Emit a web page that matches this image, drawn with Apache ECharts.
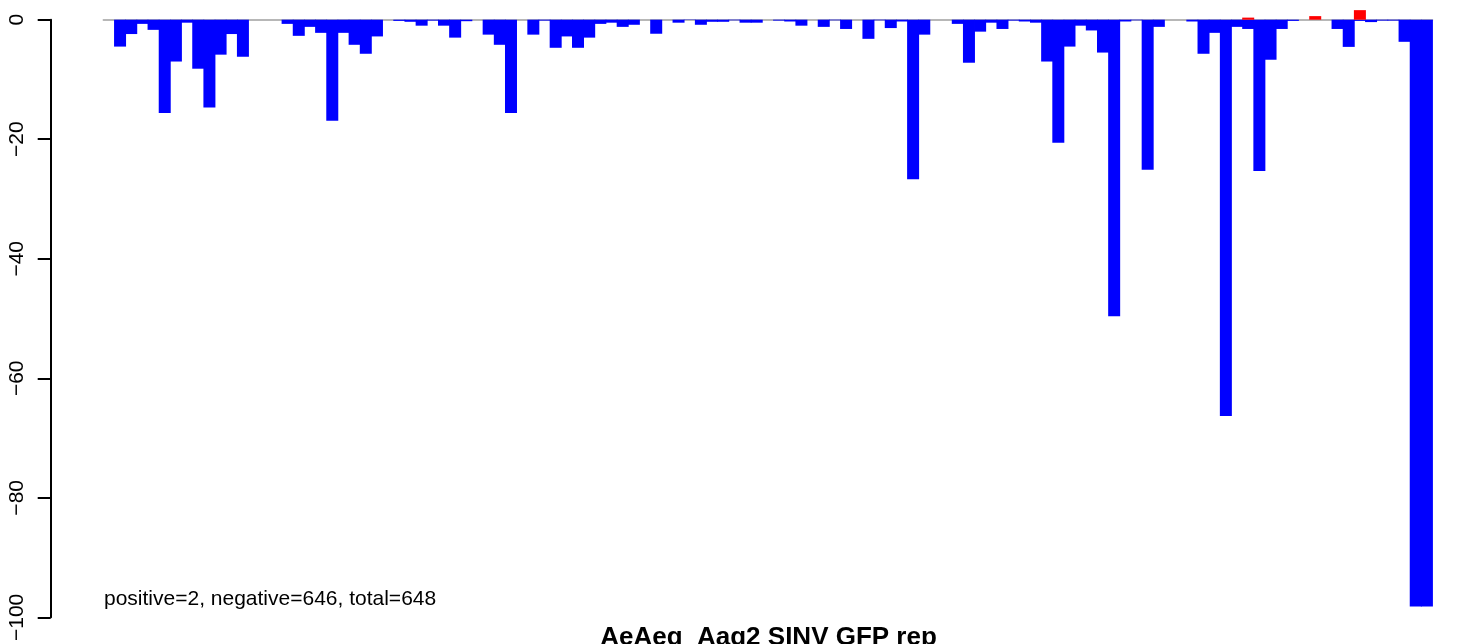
<!DOCTYPE html>
<html>
<head>
<meta charset="utf-8">
<script src="https://cdn.jsdelivr.net/npm/echarts@6/dist/echarts.min.js"></script>
<style>
html,body{margin:0;padding:0;background:#fff;}
#chart{width:1460px;height:644px;}
</style>
</head>
<body>
<div id="chart"></div>
<script>
// Negative-strand values (blue, drawn downward), one per position
const negativeValues = [
  0, -4.5, -2.4, -0.7, -1.7, -15.6, -7.0, -0.5, -8.2, -14.7,
  -5.85, -2.4, -6.2, 0, 0, 0, -0.7, -2.7, -1.2, -2.2,
  -16.9, -2.2, -4.2, -5.7, -2.8, 0, -0.2, -0.35, -1.0, -0.15,
  -1.0, -3.0, -0.25, 0, -2.5, -4.2, -15.6, 0, -2.5, -0.15,
  -4.7, -2.8, -4.7, -3.0, -0.7, -0.5, -1.2, -0.85, 0, -2.35,
  0, -0.5, -0.05, -0.85, -0.35, -0.35, -0.1, -0.5, -0.5, 0,
  -0.15, -0.3, -1.0, 0, -1.2, -0.1, -1.55, 0, -3.2, -0.1,
  -1.4, -0.3, -26.7, -2.5, 0, 0, -0.7, -7.2, -2.0, -0.5,
  -1.55, -0.15, -0.3, -0.5, -7.0, -20.6, -4.5, -1.0, -1.8, -5.5,
  -49.6, -0.3, -0.1, -25.1, -1.2, 0, 0, -0.3, -5.7, -2.2,
  -66.3, -1.2, -1.55, -25.3, -6.7, -1.55, -0.2, 0, 0, 0,
  -1.55, -4.55, -0.2, -0.4, -0.15, -0.15, -3.7, -98.2, -98.2
];
// Positive-strand values (red, drawn upward)
const positiveIdx = [102, 108, 112];
const positiveVals = [0.35, 0.6, 1.6];
const positiveValues = negativeValues.map(() => null);
positiveIdx.forEach((k, j) => { positiveValues[k] = positiveVals[j]; });

const categories = negativeValues.map((_, i) => String(i + 1));
const yTicks = { min: -100, max: 0, interval: 20 };
const noteText = 'positive=2, negative=646, total=648';
const titleText = 'AeAeg_Aag2 SINV GFP rep';

const negSeriesData = negativeValues.map(v => (v === 0 ? null : v));

const chart = echarts.init(document.getElementById('chart'), null, { renderer: 'canvas' });
const FONT = '"Liberation Sans", Arial, Helvetica, sans-serif';
chart.setOption({
  animation: false,
  backgroundColor: '#ffffff',
  grid: { left: 103.3, right: 27.5, top: 19.7, bottom: 26.3, containLabel: false },
  xAxis: {
    type: 'category',
    data: categories,
    boundaryGap: true,
    axisLine: { show: true, onZero: true, lineStyle: { color: '#a0a0a0', width: 1.5 } },
    axisTick: { show: false },
    axisLabel: { show: false },
    splitLine: { show: false }
  },
  yAxis: {
    type: 'value',
    min: yTicks.min,
    max: yTicks.max,
    interval: yTicks.interval,
    offset: 52.6,
    axisLine: { show: true, lineStyle: { color: '#000', width: 2 } },
    axisTick: { show: true, length: 13, lineStyle: { color: '#000', width: 2 } },
    axisLabel: {
      show: true, rotate: 90, margin: 23, color: '#000', fontSize: 21, fontFamily: FONT,
      formatter: v => (v < 0 ? '\u2212' + Math.abs(v) : String(v))
    },
    splitLine: { show: false }
  },
  series: [
    {
      name: 'negative', type: 'bar', data: negSeriesData,
      barWidth: 12, barGap: '-100%', clip: false,
      itemStyle: { color: '#0000ff' },
      emphasis: { disabled: true }
    },
    {
      name: 'positive', type: 'bar', data: positiveValues,
      barWidth: 12, barGap: '-100%', clip: false,
      itemStyle: { color: '#ff0000' },
      emphasis: { disabled: true }
    }
  ],
  graphic: [
    {
      type: 'text', left: 104, top: 589,
      style: { text: noteText, fill: '#000', font: '21px ' + FONT }
    },
    {
      type: 'text', x: 768.5, y: 625,
      style: { text: titleText, fill: '#000', font: 'bold 26px ' + FONT, align: 'center', verticalAlign: 'top' }
    }
  ]
});
</script>
</body>
</html>
